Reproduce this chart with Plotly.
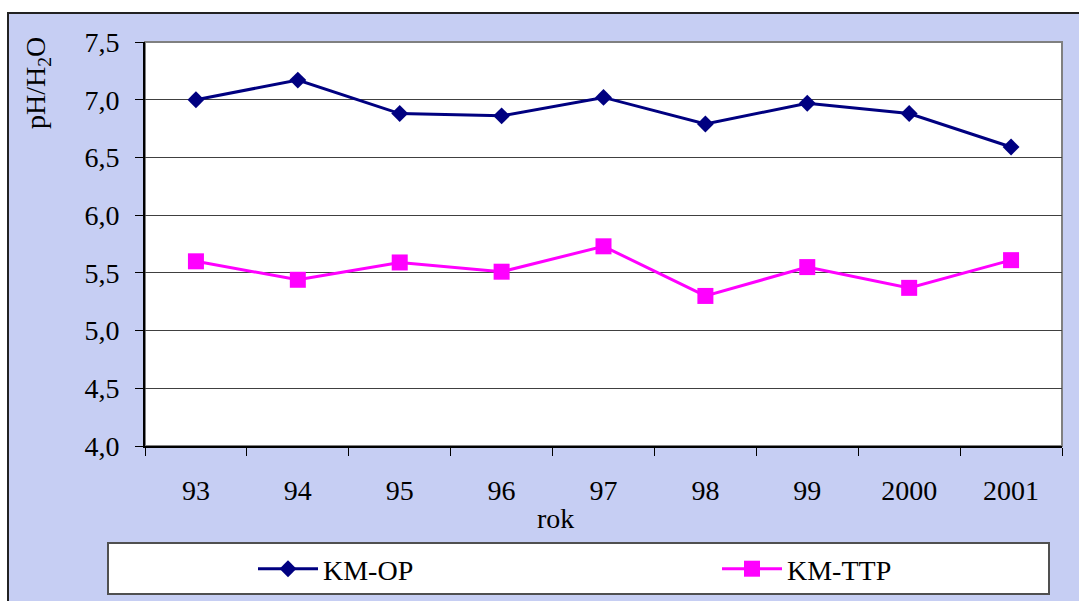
import plotly.graph_objects as go

# Roky a namerane hodnoty pH/H2O
years = ["93", "94", "95", "96", "97", "98", "99", "2000", "2001"]
km_op = [7.00, 7.17, 6.88, 6.86, 7.02, 6.79, 6.97, 6.88, 6.59]
km_ttp = [5.60, 5.44, 5.59, 5.51, 5.73, 5.30, 5.55, 5.37, 5.61]
y_ticks = [4.0, 4.5, 5.0, 5.5, 6.0, 6.5, 7.0, 7.5]
y_tick_text = ["4,0", "4,5", "5,0", "5,5", "6,0", "6,5", "7,0", "7,5"]

W, H = 1079, 601
L, R, T, B = 145, 17, 42, 155
PW, PH = W - L - R, H - T - B


def px(x):
    return (x - L) / PW


def py(y):
    return (H - B - y) / PH


FONT = "Liberation Serif, Times New Roman, serif"
BG = "#c6cef3"

fig = go.Figure()
fig.add_trace(go.Scatter(
    x=years, y=km_op, name="KM-OP", mode="lines+markers", legend="legend",
    line=dict(color="#000080", width=3),
    marker=dict(symbol="diamond", size=13, color="#000080"),
))
fig.add_trace(go.Scatter(
    x=years, y=km_ttp, name="KM-TTP", mode="lines+markers", legend="legend2",
    line=dict(color="#FF00FF", width=3),
    marker=dict(symbol="square", size=16, color="#FF00FF"),
))

shapes = [
    # chart area background with its frame
    dict(type="rect", xref="paper", yref="paper", layer="below",
         x0=px(8), x1=px(W + 10), y0=py(13), y1=py(H + 10),
         fillcolor=BG, line=dict(color="#222222", width=2)),
    # plot area
    dict(type="rect", xref="paper", yref="paper", layer="below",
         x0=0, x1=1, y0=0, y1=1,
         fillcolor="white", line=dict(color="#808080", width=2)),
    # legend box
    dict(type="rect", xref="paper", yref="paper", layer="below",
         x0=px(108), x1=px(1049), y0=py(543), y1=py(594),
         fillcolor="white", line=dict(color="#505050", width=2)),
]

annotations = [
    dict(text="pH/H<sub>2</sub>O", textangle=-90, xref="paper", yref="paper",
         x=px(37), y=py(83), xanchor="center", yanchor="middle",
         showarrow=False, font=dict(family=FONT, size=28, color="black")),
    dict(text="rok", xref="paper", yref="paper",
         x=px(555), y=py(518), xanchor="center", yanchor="middle",
         showarrow=False, font=dict(family=FONT, size=28, color="black")),
]

legend_style = dict(
    orientation="h", xref="container", yref="container",
    y=1 - 569 / H, xanchor="left", yanchor="middle",
    bgcolor="rgba(0,0,0,0)", borderwidth=0, itemwidth=60,
    font=dict(family=FONT, size=28, color="black"),
)

fig.update_layout(
    width=W, height=H,
    margin=dict(l=L, r=R, t=T, b=B, autoexpand=False),
    paper_bgcolor="white",
    plot_bgcolor="rgba(0,0,0,0)",
    font=dict(family=FONT, size=28, color="black"),
    shapes=shapes,
    annotations=annotations,
    showlegend=True,
    legend=dict(x=253 / W, **legend_style),
    legend2=dict(x=717 / W, **legend_style),
    xaxis=dict(
        type="category", range=[-0.5, len(years) - 0.5],
        tickson="boundaries", ticks="outside", ticklen=8,
        tickcolor="black", showline=True, linecolor="black", linewidth=2,
        showgrid=False, zeroline=False, ticklabelstandoff=18, automargin=False,
        tickfont=dict(family=FONT, size=28, color="black"),
    ),
    yaxis=dict(
        range=[4.0, 7.5], tickvals=y_ticks, ticktext=y_tick_text,
        ticks="outside", ticklen=8, tickcolor="black",
        showline=True, linecolor="black", linewidth=2,
        showgrid=True, gridcolor="#404040", gridwidth=1, zeroline=False,
        ticklabelstandoff=10, automargin=False,
        tickfont=dict(family=FONT, size=28, color="black"),
    ),
)

fig.write_html("out.html")
